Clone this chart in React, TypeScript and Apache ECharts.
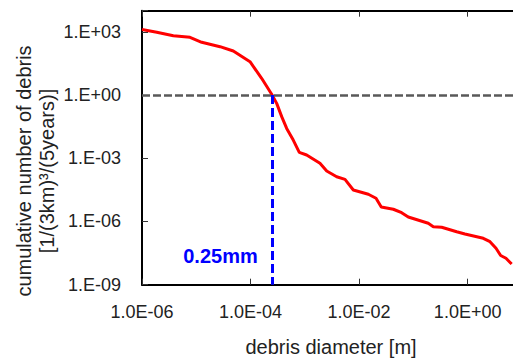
import React, { useEffect, useRef } from "react";
import * as echarts from "echarts";

// debris diameter [m]
const diameters = [
  1.0e-6, 1.87e-6, 3.78e-6, 7.66e-6, 1.26e-5, 2.74e-5, 4.81e-5, 9.77e-5, 1.6e-4, 2.5e-4,
  3.03e-4, 3.75e-4, 4.63e-4, 6.12e-4, 7.91e-4, 1.08e-3, 1.9e-3, 2.53e-3, 3.86e-3, 5.5e-3,
  7.82e-3, 1.48e-2, 2.05e-2, 2.56e-2, 4.27e-2, 6.08e-2, 8.05e-2, 0.188, 0.233, 0.332,
  0.628, 0.891, 1.94, 2.58, 3.33, 4.06, 5.08, 6.47,
];
// cumulative number of debris [1/(3km)^3/(5years)]
const cumulative = [
  1280, 942, 650, 546, 316, 196, 122, 38, 6.2, 1.0,
  0.4, 0.094, 0.026, 0.0073, 0.0019, 0.00143, 5.75e-4, 2.48e-4, 1.33e-4, 1.0e-4,
  3.1e-5, 1.95e-5, 1.26e-5, 4.86e-6, 3.8e-6, 2.6e-6, 1.63e-6, 8.2e-7, 5.65e-7, 5.3e-7,
  3.27e-7, 2.55e-7, 1.59e-7, 1.1e-7, 5.35e-8, 2.43e-8, 1.79e-8, 9.6e-9,
];

const xTickExps = [-6, -4, -2, 0];
const xTickLabels = ["1.0E-06", "1.0E-04", "1.0E-02", "1.0E+00"];
const yTickExps = [-9, -6, -3, 0, 3];
const yTickLabels = ["1.E-09", "1.E-06", "1.E-03", "1.E+00", "1.E+03"];

const thresholdCount = 1.0;
const thresholdDiameter = 2.5e-4;
const annotationText = "0.25mm";
const annotationPos = [2.79e-5, 2.3e-8];

const xTitle = "debris diameter [m]";
const yTitleLines = ["cumulative number of debris", "[1/(3km)\u00B3/(5years)]"];

const FONT = "'Liberation Sans', Arial, sans-serif";

function labelFor(exps: number[], labels: string[]) {
  return (v: number) => {
    const e = Math.round(Math.log10(v));
    if (Math.abs(Math.log10(v) - e) > 1e-6) return "";
    const i = exps.indexOf(e);
    return i >= 0 ? labels[i] : "";
  };
}

export default function App() {
  const ref = useRef<HTMLDivElement>(null);
  useEffect(() => {
    if (!ref.current) return;
    const chart = echarts.init(ref.current, null, { renderer: "svg" });
    const axisLine = { show: true, lineStyle: { color: "#000", width: 2 } };
    const axisTick = { show: true, inside: true, length: 6, lineStyle: { color: "#333", width: 1 } };
    const xBase = {
      type: "log" as const,
      logBase: 10,
      min: 1e-6,
      max: 1e2,
      interval: 2,
      splitLine: { show: false },
      axisLine,
      axisTick,
    };
    chart.setOption({
      animation: false,
      grid: {
        left: 142,
        top: 10.7,
        bottom: 73.3,
        right: -63.2,
        containLabel: false,
        outerBoundsMode: "none",
      },
      xAxis: [
        {
          ...xBase,
          position: "bottom",
          axisLabel: {
            formatter: labelFor(xTickExps, xTickLabels),
            fontFamily: FONT,
            fontSize: 18,
            color: "#222",
            margin: 18,
          },
        },
        {
          ...xBase,
          position: "top",
          axisLabel: { show: false },
        },
      ],
      yAxis: {
        type: "log",
        logBase: 10,
        min: 1e-9,
        max: 1e4,
        interval: 3,
        splitLine: { show: false },
        axisLine,
        axisTick,
        axisLabel: {
          formatter: labelFor(yTickExps, yTickLabels),
          fontFamily: FONT,
          fontSize: 18,
          color: "#222",
          margin: 21,
        },
      },
      graphic: [
        {
          type: "text",
          x: 331,
          y: 347,
          style: {
            text: xTitle,
            font: `20px ${FONT}`,
            fill: "#222",
            align: "center",
            verticalAlign: "middle",
          },
        },
        {
          type: "text",
          x: 35.5,
          y: 171,
          rotation: Math.PI / 2,
          style: {
            text: yTitleLines.join("\n"),
            font: `20px ${FONT}`,
            fill: "#222",
            align: "center",
            verticalAlign: "middle",
            lineHeight: 23,
          },
        },
      ],
      series: [
        {
          type: "line",
          xAxisIndex: 0,
          data: diameters.map((d, i) => [d, cumulative[i]]),
          showSymbol: false,
          symbol: "none",
          lineStyle: { color: "#FF0000", width: 3 },
          z: 3,
          markLine: {
            silent: true,
            symbol: "none",
            label: { show: false },
            data: [
              {
                yAxis: thresholdCount,
                lineStyle: { color: "#595959", width: 2.5, type: [8, 3] },
              },
              [
                {
                  coord: [thresholdDiameter, thresholdCount],
                  lineStyle: { color: "#0000FF", width: 3, type: [9, 4] },
                },
                { coord: [thresholdDiameter, 1e-9] },
              ],
            ],
          },
          markPoint: {
            silent: true,
            symbol: "circle",
            symbolSize: 0,
            data: [{ coord: annotationPos, value: annotationText }],
            label: {
              show: true,
              position: "inside",
              formatter: annotationText,
              color: "#0000FF",
              fontWeight: "bold",
              fontFamily: FONT,
              fontSize: 20,
            },
          },
        },
      ],
    });
    return () => chart.dispose();
  }, []);
  return (
    <div
      ref={ref}
      style={{ position: "fixed", left: 0, top: 0, width: 513, height: 358, background: "#fff" }}
    />
  );
}
